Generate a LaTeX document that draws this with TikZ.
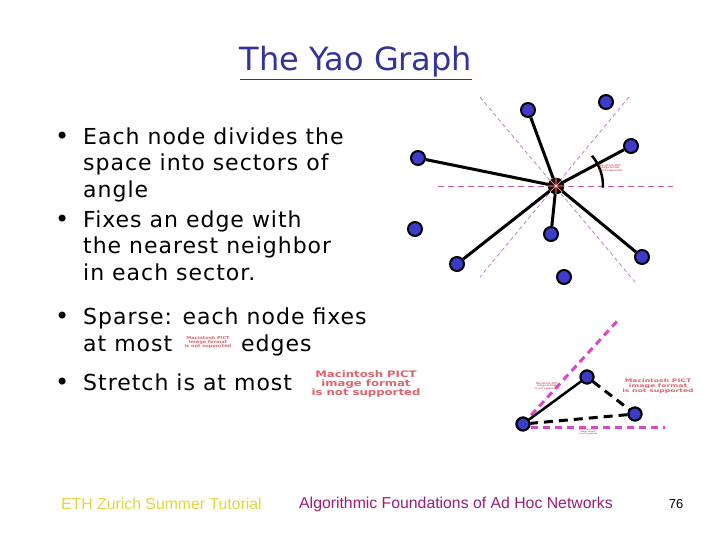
\documentclass[tikz,border=0pt]{standalone}
\usepackage{fontspec}
\setmainfont{DejaVu Sans}
\newfontfamily\bodyfont[LetterSpace=4.5]{DejaVu Sans}
\newfontfamily\footfont{Liberation Sans}
\definecolor{titleblue}{RGB}{51,51,153}
\definecolor{nodeblue}{RGB}{60,60,200}
\definecolor{sectcol}{RGB}{190,110,200}
\definecolor{hcol}{RGB}{200,90,170}
\definecolor{magline}{RGB}{220,70,200}
\definecolor{pictred}{RGB}{220,100,110}
\definecolor{ethyellow}{RGB}{225,215,60}
\definecolor{algcol}{RGB}{150,30,120}
\tikzset{
  bnode/.style={circle,draw=black,line width=2pt,fill=nodeblue,minimum size=14pt,inner sep=0pt},
  cnode/.style={circle,draw=black,line width=1.5pt,fill=black!80!red,minimum size=15pt,inner sep=0pt},
  edge/.style={line width=3pt,black},
  sector/.style={sectcol,line width=0.7pt,dash pattern=on 4pt off 3pt},
  hsector/.style={hcol,line width=0.9pt,dash pattern=on 6pt off 4pt},
  magdash/.style={magline,line width=3pt,dash pattern=on 7pt off 5pt},
  blkdash/.style={black,line width=3pt,dash pattern=on 9pt off 6pt},
  pict/.style={pictred,font=\fontsize{#1}{#1}\selectfont\bfseries,align=center,inner sep=0pt},
  txt/.style={anchor=base west,inner sep=0pt,font=\bodyfont\fontsize{22}{22}\selectfont},
  bul/.style={anchor=base west,inner sep=0pt,font=\fontsize{24}{24}\selectfont},
  foot/.style={font=\footfont\fontsize{15.8}{15.8}\selectfont,anchor=west,inner sep=0pt},
}
\begin{document}
\begin{tikzpicture}[x=1pt,y=-1pt]
\useasboundingbox (0,0) rectangle (720,540);
% title
\node[titleblue,font=\fontsize{32}{32}\selectfont,inner sep=0pt] (title) at (356,63) {\underline{The Yao Graph}};
% bullets
\node[bul] (b1) at (55,145) {•};
\node[txt] (l1) at (83,145) {Each node divides the};
\node[txt] (l2) at (83,171) {space into sectors of};
\node[txt] (l3) at (83,197.5) {angle};
\node[bul] (b2) at (55,228) {•};
\node[txt] (l4) at (83,228) {Fixes an edge with};
\node[txt] (l5) at (83,254) {the nearest neighbor};
\node[txt] (l6) at (83,280) {in each sector.};
\node[bul] (b3) at (55,324) {•};
\node[txt] (l7) at (83,324) {Sparse: each node fixes};
\node[txt] (l8) at (83,351) {at most};
\node[txt] (l8b) at (241,351) {edges};
\node[pict=4] (p1) at (208,342) {\scalebox{1.25}[1]{Macintosh PICT}\\\scalebox{1.25}[1]{image format}\\\scalebox{1.25}[1]{is not supported}};
\node[bul] (b4) at (55,390) {•};
\node[txt] (l9) at (83,390) {Stretch is at most};
\node[pict=9] (p2) at (366,384) {\scalebox{1.3}[1]{Macintosh PICT}\\\scalebox{1.3}[1]{image format}\\\scalebox{1.3}[1]{is not supported}};
% Yao graph top right
\coordinate (hl) at (438,186);
\coordinate (hr) at (673,186);
\coordinate (d1a) at (480,97);
\coordinate (d1b) at (635,282);
\coordinate (d2a) at (629,97);
\coordinate (d2b) at (480,277);
\draw[hsector] (hl) -- (hr);
\draw[sector] (d1a) -- (d1b);
\draw[sector] (d2a) -- (d2b);
\node[bnode] (n1) at (528,110) {};
\node[bnode] (n2) at (606,102) {};
\node[bnode] (n3) at (631,146) {};
\node[bnode] (n4) at (418,158) {};
\node[bnode] (n5) at (415,229) {};
\node[bnode] (n6) at (551,234) {};
\node[bnode] (n7) at (457,264) {};
\node[bnode] (n8) at (564,277) {};
\node[bnode] (n9) at (642,257) {};
\node[cnode] (c) at (556,186) {};
\foreach \t in {n1,n3,n4,n6,n7,n9} \draw[edge] (c) -- (\t);
\draw[pink,line width=0.6pt] (548,186) -- (564,186) (556,178) -- (556,194) (550,180) -- (562,192) (550,192) -- (562,180);
\draw[line width=2.5pt] (556,186) ++(-40:47) arc[start angle=-40,end angle=2,radius=47];
\node[pict=2.5] (p3) at (610,168) {Macintosh PICT\\image format\\is not supported};
% Bottom right
\coordinate (m1) at (620,318);
\coordinate (m2) at (665,427);
\node[bnode,minimum size=13pt] (a) at (523,424) {};
\node[bnode,minimum size=13pt] (b) at (587,377) {};
\node[bnode,minimum size=13pt] (cc) at (635,414) {};
\draw[magdash] (a.center) -- (m1);
\draw[magdash] ([yshift=-3pt]a.east) -- (m2);
\draw[edge,line width=2.5pt] (a) -- (b);
\draw[blkdash] (b) -- (cc);
\draw[blkdash] (cc) -- (a);
\node[bnode,minimum size=13pt] at (523,424) {};
\node[bnode,minimum size=13pt] at (587,377) {};
\node[bnode,minimum size=13pt] at (635,414) {};
\node[pict=4.8] (p4) at (658,386) {\scalebox{1.6}[1]{Macintosh PICT}\\\scalebox{1.6}[1]{image format}\\\scalebox{1.6}[1]{is not supported}};
\node[pict=2.5] (p5) at (547,386) {Macintosh PICT\\image format\\is not supported};
\node[pict=2] (p6) at (588,432) {Macintosh PICT\\image format\\is not supported};
% footer
\node[ethyellow,foot] (f1) at (61,504) {ETH Zurich Summer Tutorial};
\node[algcol,foot] (f2) at (299,504) {Algorithmic Foundations of Ad Hoc Networks};
\node[black,font=\footfont\fontsize{13}{13}\selectfont,inner sep=0pt] (f3) at (676,504) {76};
\end{tikzpicture}
\end{document}
